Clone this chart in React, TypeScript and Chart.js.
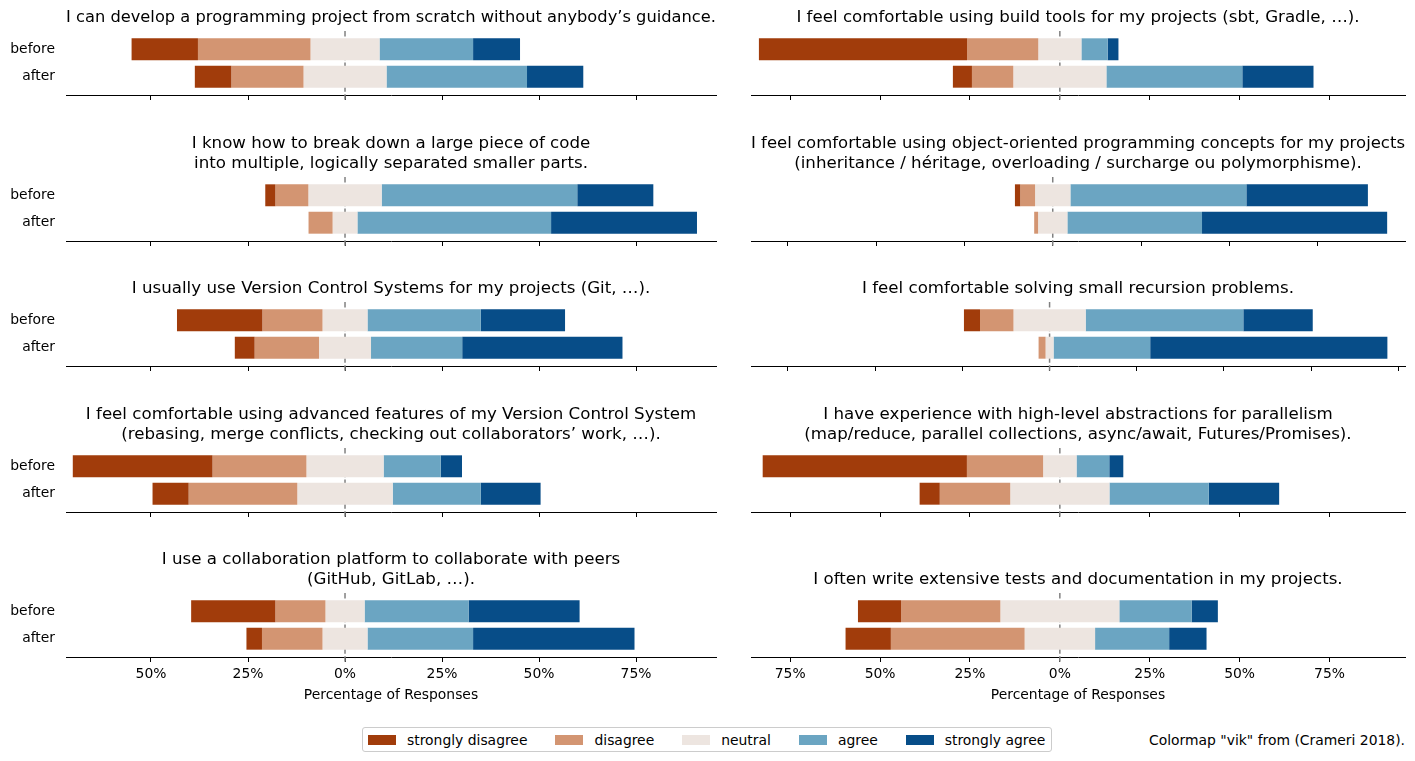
import React, { useEffect, useRef } from 'react';
import { Chart, registerables } from 'chart.js';

Chart.register(...registerables);

// ---------- data ----------
const categories = ['before', 'after'];
const levels = ['strongly disagree', 'disagree', 'neutral', 'agree', 'strongly agree'];
const levelColors = ['#a13c0b', '#d39572', '#ede5e0', '#6ba5c2', '#074d88'];
const tickValues = [-75, -50, -25, 0, 25, 50, 75, 100];

// percentages per level: [strongly disagree, disagree, neutral, agree, strongly agree]
const scratchBefore = [17.1, 29.0, 17.8, 24.1, 12.1];
const scratchAfter = [9.4, 18.6, 21.4, 36.2, 14.5];
const decomposeBefore = [2.6, 8.5, 18.9, 50.4, 19.6];
const decomposeAfter = [0, 6.2, 6.4, 49.9, 37.6];
const vcsBefore = [22.0, 15.5, 11.6, 29.2, 21.7];
const vcsAfter = [5.1, 16.6, 13.4, 23.5, 41.3];
const vcsAdvancedBefore = [36.0, 24.2, 19.9, 14.7, 5.5];
const vcsAdvancedAfter = [9.3, 28.0, 24.6, 22.7, 15.4];
const collabBefore = [21.7, 12.9, 10.1, 26.8, 28.6];
const collabAfter = [4.0, 15.6, 11.6, 27.2, 41.6];

const buildToolsBefore = [57.9, 19.8, 12.0, 7.3, 3.0];
const buildToolsAfter = [5.3, 11.5, 25.9, 37.8, 19.8];
const oopBefore = [1.5, 4.2, 10.0, 49.8, 34.4];
const oopAfter = [0, 1.1, 8.3, 38.1, 52.4];
const recursionBefore = [4.6, 9.6, 20.7, 45.2, 19.9];
const recursionAfter = [0, 2.0, 2.3, 27.7, 68.0];
const parallelBefore = [56.8, 21.2, 9.3, 9.1, 3.9];
const parallelAfter = [5.6, 19.6, 27.6, 27.6, 19.6];
const testsBefore = [12.0, 27.6, 33.1, 20.1, 7.3];
const testsAfter = [12.6, 37.2, 19.6, 20.6, 10.4];

// x-axis ranges (percent)
const leftRange = [-71.9, 95.6];
const rightRange = [-85.9, 96.0];
const oopRange = [-85.4, 99.7];
const recursionRange = [-85.6, 101.9];

const leftTitles = [
  ['I can develop a programming project from scratch without anybody\u2019s guidance.'],
  ['I know how to break down a large piece of code', 'into multiple, logically separated smaller parts.'],
  ['I usually use Version Control Systems for my projects (Git, \u2026).'],
  ['I feel comfortable using advanced features of my Version Control System', '(rebasing, merge conflicts, checking out collaborators\u2019 work, \u2026).'],
  ['I use a collaboration platform to collaborate with peers', '(GitHub, GitLab, \u2026).'],
];
const rightTitles = [
  ['I feel comfortable using build tools for my projects (sbt, Gradle, \u2026).'],
  ['I feel comfortable using object-oriented programming concepts for my projects', '(inheritance / h\u00e9ritage, overloading / surcharge ou polymorphisme).'],
  ['I feel comfortable solving small recursion problems.'],
  ['I have experience with high-level abstractions for parallelism', '(map/reduce, parallel collections, async/await, Futures/Promises).'],
  ['I often write extensive tests and documentation in my projects.'],
];

const xLabel = 'Percentage of Responses';
const creditText = 'Colormap "vik" from (Crameri 2018).';

// ---------- layout ----------
const FONT = 'DejaVu Sans';
const AXES_TOP = [31, 177, 302, 448, 593];
const AXES_H = 64;
const TITLE_LH = 20;
const TITLE_PAD_B = 3;
const COLS = [
  { left: 0, width: 730, yAxisW: 66, padRight: 14 },
  { left: 730, width: 685, yAxisW: 21, padRight: 10 },
];

type PanelCfg = {
  title: string[];
  before: number[];
  after: number[];
  range: number[];
  col: number;
  row: number;
};

const panels: PanelCfg[] = [
  { title: leftTitles[0], before: scratchBefore, after: scratchAfter, range: leftRange, col: 0, row: 0 },
  { title: leftTitles[1], before: decomposeBefore, after: decomposeAfter, range: leftRange, col: 0, row: 1 },
  { title: leftTitles[2], before: vcsBefore, after: vcsAfter, range: leftRange, col: 0, row: 2 },
  { title: leftTitles[3], before: vcsAdvancedBefore, after: vcsAdvancedAfter, range: leftRange, col: 0, row: 3 },
  { title: leftTitles[4], before: collabBefore, after: collabAfter, range: leftRange, col: 0, row: 4 },
  { title: rightTitles[0], before: buildToolsBefore, after: buildToolsAfter, range: rightRange, col: 1, row: 0 },
  { title: rightTitles[1], before: oopBefore, after: oopAfter, range: oopRange, col: 1, row: 1 },
  { title: rightTitles[2], before: recursionBefore, after: recursionAfter, range: recursionRange, col: 1, row: 2 },
  { title: rightTitles[3], before: parallelBefore, after: parallelAfter, range: rightRange, col: 1, row: 3 },
  { title: rightTitles[4], before: testsBefore, after: testsAfter, range: rightRange, col: 1, row: 4 },
];

function segments(vals: number[]): number[][] {
  let acc = -(vals[0] + vals[1] + vals[2] / 2);
  return vals.map((v) => {
    const s = acc;
    acc += v;
    return [s, acc];
  });
}

const zeroLinePlugin = {
  id: 'zeroLine',
  beforeDatasetsDraw(chart: any) {
    const { ctx, chartArea, scales } = chart;
    const x = scales.x.getPixelForValue(0);
    ctx.save();
    ctx.strokeStyle = '#808080';
    ctx.lineWidth = 1.5;
    ctx.setLineDash([5.5, 2.4]);
    ctx.beginPath();
    ctx.moveTo(x, chartArea.top);
    ctx.lineTo(x, chartArea.bottom + 5);
    ctx.stroke();
    ctx.restore();
  },
};

function PanelChart({ cfg }: { cfg: PanelCfg }) {
  const ref = useRef<HTMLCanvasElement>(null);
  const col = COLS[cfg.col];
  const isBottom = cfg.row === 4;
  const xh = isBottom ? 47 : 8;
  const titleH = cfg.title.length * TITLE_LH + TITLE_PAD_B;
  const top = AXES_TOP[cfg.row] - titleH;
  const h = titleH + AXES_H + xh;
  const w = col.width;

  useEffect(() => {
    const segB = segments(cfg.before);
    const segA = segments(cfg.after);
    const datasets = levels.map((lv, k) => ({
      label: lv,
      data: [
        { x: segB[k], y: 0 },
        { x: segA[k], y: 1 },
      ],
      backgroundColor: levelColors[k],
      borderWidth: 0,
      stack: 'all',
    }));
    const chart = new Chart(ref.current as HTMLCanvasElement, {
      type: 'bar',
      data: { datasets: datasets as any },
      plugins: [zeroLinePlugin],
      options: {
        animation: false,
        responsive: false,
        indexAxis: 'y',
        grouped: true,
        categoryPercentage: 1,
        barPercentage: 0.8,
        layout: { autoPadding: false, padding: { left: 0, right: col.padRight, top: 0, bottom: 0 } },
        plugins: {
          legend: { display: false },
          tooltip: { enabled: false },
          title: {
            display: true,
            text: cfg.title,
            fullSize: false,
            color: '#000000',
            font: { family: FONT, size: 16.67, weight: 'normal', lineHeight: TITLE_LH + 'px' } as any,
            padding: { top: 0, bottom: TITLE_PAD_B },
          },
        },
        scales: {
          x: {
            type: 'linear',
            stacked: false,
            min: cfg.range[0],
            max: cfg.range[1],
            afterBuildTicks: (s: any) => {
              s.ticks = tickValues.filter((v) => v >= s.min && v <= s.max).map((v) => ({ value: v }));
            },
            afterFit: (s: any) => {
              s.height = xh;
              s.paddingLeft = 0;
              s.paddingRight = 0;
            },
            grid: { drawOnChartArea: false, drawTicks: true, tickLength: 5, color: '#000000', lineWidth: 1 },
            border: { display: true, color: '#000000', width: 1 },
            ticks: {
              display: isBottom,
              color: '#000000',
              padding: 4,
              maxRotation: 0,
              autoSkip: false,
              font: { family: FONT, size: 13.9 },
              callback: (v: any) => Math.abs(Number(v)) + '%',
            },
            title: {
              display: isBottom,
              text: xLabel,
              color: '#000000',
              padding: 0,
              font: { family: FONT, size: 13.9 },
            },
          },
          y: {
            type: 'linear',
            offset: false,
            grace: 0,
            bounds: 'data',
            reverse: true,
            min: -0.667,
            max: 1.667,
            afterBuildTicks: (s: any) => {
              s.ticks = categories.map((_, i) => ({ value: i }));
            },
            afterFit: (s: any) => {
              s.width = col.yAxisW;
              s.paddingTop = 0;
              s.paddingBottom = 0;
            },
            grid: { display: false, drawTicks: false, offset: false },
            border: { display: false },
            ticks: {
              display: cfg.col === 0,
              color: '#000000',
              padding: 11,
              font: { family: FONT, size: 13.9 },
              callback: (v: any) => categories[Number(v)],
            },
          },
        },
      } as any,
    });
    return () => chart.destroy();
  }, []);

  return (
    <canvas
      ref={ref}
      width={w}
      height={h}
      style={{ position: 'absolute', left: col.left, top, width: w, height: h, display: 'block' }}
    />
  );
}

export default function App() {
  return (
    <div
      style={{
        position: 'absolute',
        left: 0,
        top: 0,
        width: 1415,
        height: 761,
        background: '#ffffff',
        fontFamily: FONT,
        overflow: 'hidden',
      }}
    >
      {panels.map((p, i) => (
        <PanelChart key={i} cfg={p} />
      ))}
      <div
        style={{
          position: 'absolute',
          left: 362,
          top: 727,
          height: 25,
          boxSizing: 'border-box',
          border: '1px solid #cccccc',
          borderRadius: 3,
          display: 'flex',
          alignItems: 'center',
          paddingLeft: 5,
          paddingRight: 6,
          fontSize: 13.9,
          color: '#000000',
          whiteSpace: 'nowrap',
        }}
      >
        {levels.map((lv, k) => (
          <div key={lv} style={{ display: 'flex', alignItems: 'center', marginRight: k < levels.length - 1 ? 28 : 0 }}>
            <span style={{ display: 'inline-block', width: 28, height: 10, background: levelColors[k], marginRight: 11 }} />
            <span style={{ lineHeight: '16px' }}>{lv}</span>
          </div>
        ))}
      </div>
      <div
        style={{
          position: 'absolute',
          right: 10,
          top: 732,
          fontSize: 13.9,
          lineHeight: '16px',
          color: '#000000',
          whiteSpace: 'nowrap',
        }}
      >
        {creditText}
      </div>
    </div>
  );
}
